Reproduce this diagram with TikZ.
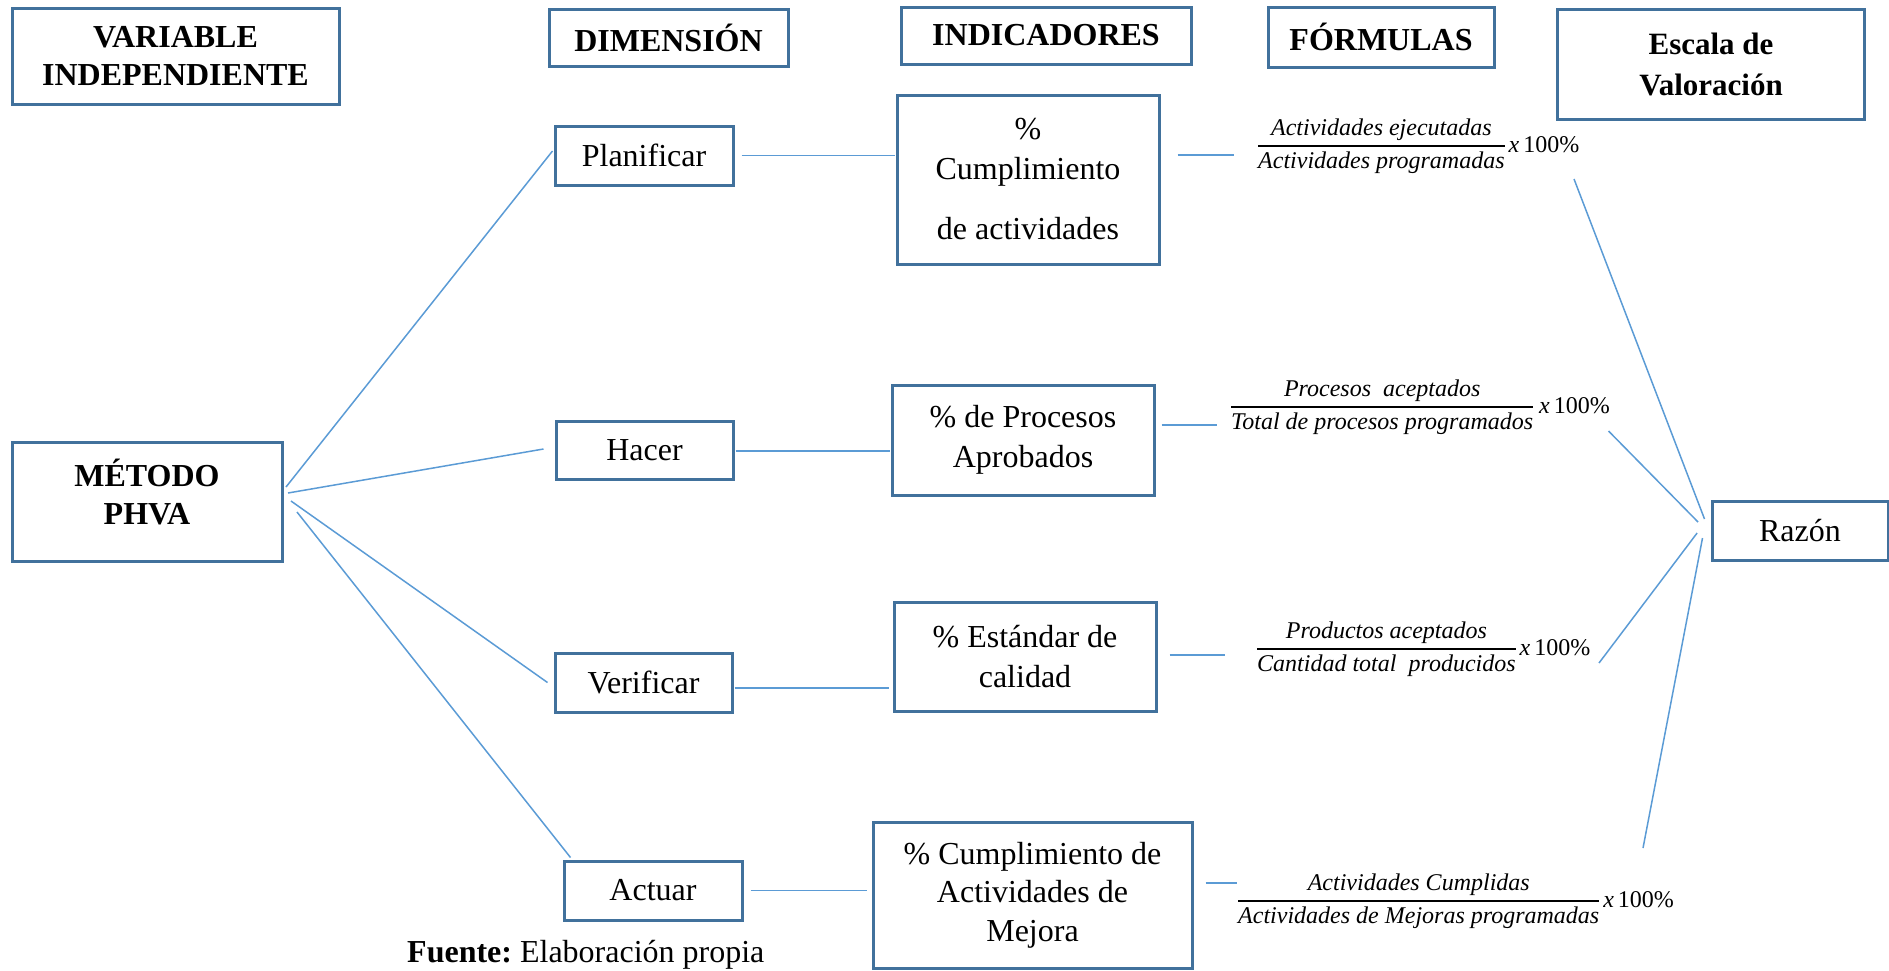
\documentclass[tikz,border=0pt]{standalone}
\usepackage{fontspec}
\setmainfont{Liberation Serif}
\definecolor{boxc}{RGB}{65,113,156}
\definecolor{linec}{RGB}{91,155,213}
\newcommand\bodyfont{\fontsize{32}{40}\selectfont}
\newcommand\headfont{\fontsize{32}{38}\selectfont\bfseries}
\newcommand\frfont{\fontsize{24}{30}\selectfont}
\newcommand\frc[2]{{\setlength\arrayrulewidth{2.5pt}\begin{tabular}{@{}c@{}}\itshape #1\\\hline\itshape #2\end{tabular}}}
\tikzset{
  box/.style={draw=boxc,line width=3pt,inner sep=0pt,align=center,font=\bodyfont},
  hbox/.style={box,font=\headfont},
  conn/.style={draw=linec,line width=1.5pt},
  frm/.style={inner sep=0pt,anchor=west,font=\frfont}
}
\begin{document}
\begin{tikzpicture}[x=1pt,y=-1pt]
\useasboundingbox (0,0) rectangle (1889,970);
% headers
\node[hbox,minimum width=327,minimum height=96] (varind) at (175.5,56) {VARIABLE\\INDEPENDIENTE};
\node[hbox,minimum width=239,minimum height=57] (dim) at (668.5,37.5) {DIMENSIÓN};
\node[hbox,minimum width=290,minimum height=57] (indh) at (1046,35.5) {INDICADORES};
\node[hbox,minimum width=226,minimum height=60] (formh) at (1381,37) {FÓRMULAS};
\node[hbox,minimum width=307,minimum height=110,font=\fontsize{31}{41}\selectfont\bfseries] (escala) at (1711,64) {Escala de\\Valoración};
% main
\node[box,minimum width=270,minimum height=119] (phva) at (147,502) {};
\node[font=\headfont,align=center,inner sep=0pt] (phvat) at (147,492) {MÉTODO\\PHVA};
% dimensions
\node[box,minimum width=178,minimum height=59] (plan) at (644,155.5) {Planificar};
\node[box,minimum width=177,minimum height=58] (hacer) at (644.5,450) {Hacer};
\node[box,minimum width=177,minimum height=59] (verif) at (643.5,682.5) {Verificar};
\node[box,minimum width=178,minimum height=59] (actuar) at (653,890.5) {Actuar};
% indicators
\node[box,minimum width=262,minimum height=169] (ind1) at (1028,179.5) {\%\\Cumplimiento\\[20pt]de actividades};
\node[box,minimum width=262,minimum height=110] (ind2) at (1023,440) {\% de Procesos\\Aprobados};
\node[box,minimum width=262,minimum height=109] (ind3) at (1025,656.5) {\% Estándar de\\calidad};
\node[box,minimum width=319,minimum height=146,font=\fontsize{32}{38.5}\selectfont] (ind4) at (1032.5,895) {\% Cumplimiento de\\Actividades de\\Mejora};
% formulas
\node[frm] (f1) at (1258,146) {\frc{Actividades ejecutadas}{Actividades programadas}\,{\itshape x}\,100\%};
\node[frm] (f2) at (1231,407) {\frc{Procesos\ \ aceptados}{Total de procesos programados}\ {\itshape x}\,100\%};
\node[frm] (f3) at (1257,649) {\frc{Productos aceptados}{Cantidad total\ \ producidos}\,{\itshape x}\,100\%};
\node[frm] (f4) at (1238,901) {\frc{Actividades Cumplidas}{Actividades de Mejoras programadas}\,{\itshape x}\,100\%};
% scale
\node[box,minimum width=176,minimum height=59] (razon) at (1800,530.5) {Razón};
% source
\node[font=\bodyfont,anchor=west,inner sep=0pt] (fuente) at (407,955) {\textbf{Fuente:}~Elaboración propia};
% free ends
\coordinate (o1) at (286,487);
\coordinate (o2) at (288,493);
\coordinate (o3) at (291,501);
\coordinate (o4) at (297,512);
\coordinate (e1) at ([shift={(-1,-4.5)}]plan.west);
\coordinate (e2) at ([shift={(-11,-1)}]hacer.west);
\coordinate (e3) at ([shift={(-6,0)}]verif.west);
\coordinate (e4) at ([shift={(8,-2)}]actuar.north west);
\coordinate (b1) at (1234,155);
\coordinate (b2) at (1217,425);
\coordinate (b3) at (1225,655);
\coordinate (b4) at (1237,883);
\coordinate (s1) at (1574,179);
\coordinate (s2) at (1608.5,431);
\coordinate (s3) at (1599,663);
\coordinate (s4) at (1643,848);
\coordinate (r1) at ([shift={(-6,-11.5)}]razon.west);
\coordinate (r2) at ([shift={(-12.5,-8.5)}]razon.west);
\coordinate (r3) at ([shift={(-13.4,2.5)}]razon.west);
\coordinate (r4) at ([shift={(-8,7.5)}]razon.west);
% connectors
\draw[conn] (o1) -- (e1);
\draw[conn] (o2) -- (e2);
\draw[conn] (o3) -- (e3);
\draw[conn] (o4) -- (e4);
\draw[conn,shorten <=7pt,shorten >=1pt] (plan.east) -- (plan.east -| ind1.west);
\draw[conn,shorten <=1pt,shorten >=1pt] ([yshift=-1]hacer.east) -- ([yshift=-1]hacer.east -| ind2.west);
\draw[conn,shorten <=1pt,shorten >=4pt] ([yshift=-5.5]verif.east) -- ([yshift=-5.5]verif.east -| ind3.west);
\draw[conn,shorten <=7pt,shorten >=5pt] (actuar.east) -- (actuar.east -| ind4.west);
\draw[conn,shorten <=17pt] (ind1.east |- b1) -- (b1);
\draw[conn,shorten <=6pt] (ind2.east |- b2) -- (b2);
\draw[conn,shorten <=12pt] (ind3.east |- b3) -- (b3);
\draw[conn,shorten <=12pt] (ind4.east |- b4) -- (b4);
\draw[conn] (s1) -- (r1);
\draw[conn] (s2) -- (r2);
\draw[conn] (s3) -- (r3);
\draw[conn] (r4) -- (s4);
\end{tikzpicture}
\end{document}
